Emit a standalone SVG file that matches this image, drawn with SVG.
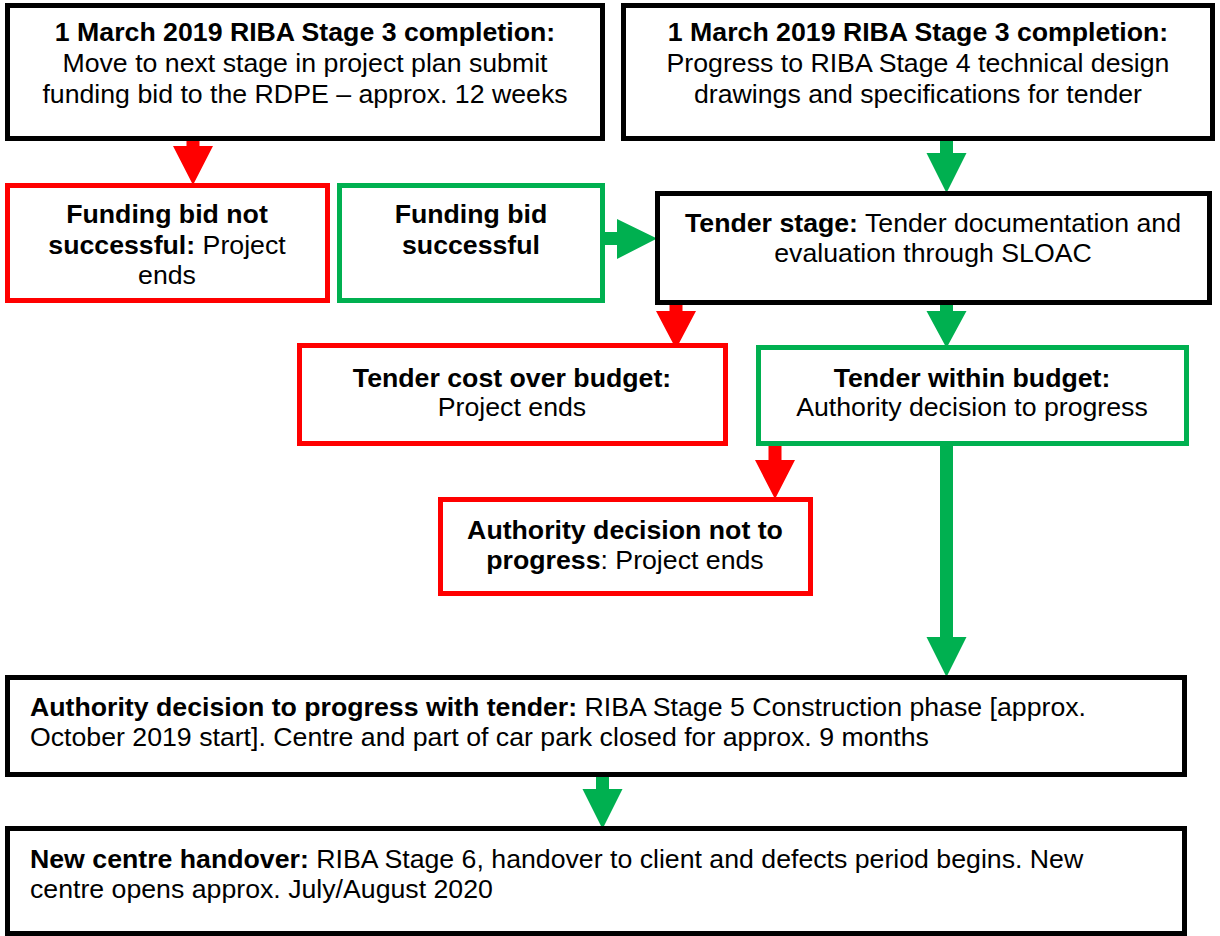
<svg xmlns="http://www.w3.org/2000/svg" width="1220" height="936" viewBox="0 0 1220 936">
<style>
.box{fill:#fff;stroke-width:5}
.k{stroke:#000}
.r{stroke:#FF0000}
.g{stroke:#00B050}
text{font-family:"Liberation Sans",Arial,sans-serif;font-size:26.7px;fill:#000}
.c{text-anchor:middle}
.b{font-weight:bold}
.ar{fill:#FF0000}
.ag{fill:#00B050}
</style>
<rect width="1220" height="936" fill="#fff"/>
<g id="connectors">
<polygon class="ar" points="186.5,139 199.5,139 199.5,146 213,146 193,185 173,146 186.5,146"/>
<polygon class="ag" points="603,232 617,232 617,219 657,238.5 617,259 617,245 603,245"/>
<polygon class="ag" points="940,139 953,139 953,153 966.5,153 946.5,193 926.5,153 940,153"/>
<polygon class="ar" points="669.5,303 682.5,303 682.5,311 696,311 676,349 656,311 669.5,311"/>
<polygon class="ag" points="940,303 953,303 953,311 966.5,311 946.5,348 926.5,311 940,311"/>
<polygon class="ar" points="768.5,444 781.5,444 781.5,460 795,460 775,499 755,460 768.5,460"/>
<polygon class="ag" points="940,444 953,444 953,637 966.5,637 946.5,677 926.5,637 940,637"/>
<polygon class="ag" points="596,774 609,774 609,789 622.5,789 602.5,829 582.5,789 596,789"/>
</g>
<g id="n1">
<rect class="box k" x="7.5" y="5.5" width="595" height="133"/>
<text class="c b" x="305" y="41">1 March 2019 RIBA Stage 3 completion:</text>
<text class="c" x="305" y="72">Move to next stage in project plan submit</text>
<text class="c" x="305" y="103">funding bid to the RDPE – approx. 12 weeks</text>
</g>
<g id="n2">
<rect class="box k" x="623.5" y="5.5" width="589" height="133"/>
<text class="c b" x="918" y="41">1 March 2019 RIBA Stage 3 completion:</text>
<text class="c" x="918" y="72">Progress to RIBA Stage 4 technical design</text>
<text class="c" x="918" y="103">drawings and specifications for tender</text>
</g>
<g id="n3">
<rect class="box r" x="7.5" y="185.5" width="320" height="115"/>
<text class="c b" x="167" y="223">Funding bid not</text>
<text class="c" x="167" y="253.5"><tspan class="b">successful:</tspan> Project</text>
<text class="c" x="167" y="284">ends</text>
</g>
<g id="n4">
<rect class="box g" x="339.5" y="185.5" width="263" height="115"/>
<text class="c b" x="471" y="223">Funding bid</text>
<text class="c b" x="471" y="253.5">successful</text>
</g>
<g id="n5">
<rect class="box k" x="657.5" y="193.5" width="552" height="109"/>
<text class="c" x="933" y="231.5"><tspan class="b">Tender stage:</tspan> Tender documentation and</text>
<text class="c" x="933" y="262">evaluation through SLOAC</text>
</g>
<g id="n6">
<rect class="box r" x="299.5" y="345.5" width="426" height="98"/>
<text class="c b" x="512" y="386.5">Tender cost over budget:</text>
<text class="c" x="512" y="416">Project ends</text>
</g>
<g id="n7">
<rect class="box g" x="758.5" y="347.5" width="428" height="96"/>
<text class="c b" x="972" y="386.5">Tender within budget:</text>
<text class="c" x="972" y="416">Authority decision to progress</text>
</g>
<g id="n8">
<rect class="box r" x="440.5" y="499.5" width="370" height="94"/>
<text class="c b" x="625" y="538.5">Authority decision not to</text>
<text class="c" x="625" y="569"><tspan class="b">progress</tspan>: Project ends</text>
</g>
<g id="n9">
<rect class="box k" x="7.5" y="677.5" width="1177" height="97"/>
<text x="30" y="715.5"><tspan class="b">Authority decision to progress with tender:</tspan> RIBA Stage 5 Construction phase [approx.</text>
<text x="30" y="746">October 2019 start]. Centre and part of car park closed for approx. 9 months</text>
</g>
<g id="n10">
<rect class="box k" x="7.5" y="828.5" width="1177" height="105"/>
<text x="30" y="867.5"><tspan class="b">New centre handover:</tspan> RIBA Stage 6, handover to client and defects period begins. New</text>
<text x="30" y="898">centre opens approx. July/August 2020</text>
</g>
</svg>
